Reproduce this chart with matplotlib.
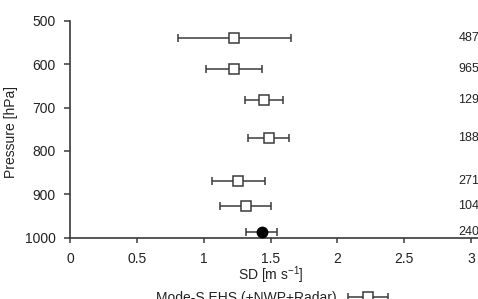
import matplotlib
matplotlib.use("Agg")
import matplotlib.pyplot as plt
from matplotlib.ticker import FuncFormatter
from matplotlib.container import ErrorbarContainer
from matplotlib.legend_handler import HandlerErrorbar

# Data
pres_sq = [540, 611, 682, 770, 869, 927]
sd_sq = [1.23, 1.23, 1.45, 1.49, 1.26, 1.32]
lo_sq = [0.81, 1.02, 1.31, 1.33, 1.06, 1.12]
hi_sq = [1.65, 1.44, 1.59, 1.64, 1.46, 1.50]

pres_dot = [987]
sd_dot = [1.44]
lo_dot = [1.32]
hi_dot = [1.55]

count_pres = [540, 611, 682, 770, 869, 927, 987]
count_labels = ["487", "965", "129", "188", "271", "104", "240"]

plt.rcParams['font.family'] = ['Liberation Sans', 'DejaVu Sans']
plt.rcParams['mathtext.default'] = 'regular'

ink = '#3a3a3a'
txt = '#222222'

fig = plt.figure(figsize=(4.78, 2.99), dpi=100)
W, H = 478.0, 299.0
x0, x3 = 70.0, 471.0
ytop, ybot = 21.0, 237.5
px_per_unit = (x3 - x0) / 3.0
xmax = 3.2
ax = fig.add_axes([x0 / W, 1 - ybot / H, xmax * px_per_unit / W, (ybot - ytop) / H])

err_sq = [[s - l for s, l in zip(sd_sq, lo_sq)], [h - s for s, h in zip(sd_sq, hi_sq)]]
ax.errorbar(sd_sq, pres_sq, xerr=err_sq, fmt='s', mfc='white', mec=ink, ms=7, mew=1.1,
            ecolor=ink, elinewidth=1.1, capsize=2.6, capthick=1.1,
            label='Mode-S EHS (+NWP+Radar)', zorder=3)
err_dot = [[s - l for s, l in zip(sd_dot, lo_dot)], [h - s for s, h in zip(sd_dot, hi_dot)]]
ax.errorbar(sd_dot, pres_dot, xerr=err_dot, fmt='o', mfc='black', mec='black', ms=7.5,
            ecolor=ink, elinewidth=1.1, capsize=2.6, capthick=1.1, zorder=3)

for p, lab in zip(count_pres, count_labels):
    ax.text(2.905, p, lab, ha='left', va='center', fontsize=9, color=txt)

ax.set_xlim(0, xmax)
ax.set_ylim(1000, 500)
ax.set_xticks([0, 0.5, 1, 1.5, 2, 2.5, 3])
ax.set_yticks([500, 600, 700, 800, 900, 1000])
ax.xaxis.set_major_formatter(FuncFormatter(lambda v, _: f"{v:g}"))

for s in ['top', 'right']:
    ax.spines[s].set_visible(False)
for s in ['left', 'bottom']:
    ax.spines[s].set_color(ink)
    ax.spines[s].set_linewidth(1.2)
ax.tick_params(axis='both', colors=ink, labelcolor=txt, labelsize=10, width=1.1)
ax.tick_params(axis='y', length=4.5, pad=6)
ax.tick_params(axis='x', length=3.5, pad=7)

ax.set_xlabel('SD [m s$^{-1}$]', fontsize=10, color=txt)
ax.xaxis.set_label_coords(1.5, -0.125, transform=ax.get_xaxis_transform())
ax.set_ylabel('Pressure [hPa]', fontsize=10, color=txt)
ax.yaxis.set_label_coords(-0.122, 0.487)

ax.legend(loc='center', bbox_to_anchor=(272.5 / W, 1 - 298 / H), bbox_transform=fig.transFigure,
          frameon=False, markerfirst=False, fontsize=10, handlelength=3, handletextpad=0.7,
          borderpad=0, labelcolor=txt,
          handler_map={ErrorbarContainer: HandlerErrorbar(xerr_size=1.45)})

fig.savefig('out.png', dpi=100)
